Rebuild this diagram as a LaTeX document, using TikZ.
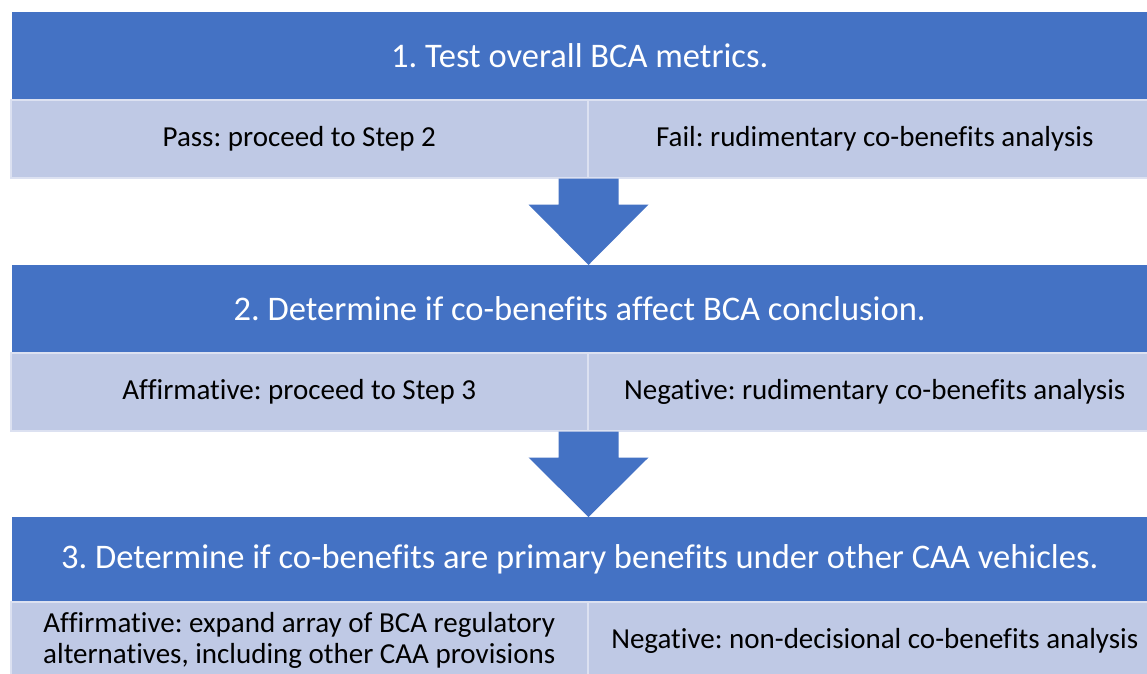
\documentclass[tikz,border=0pt]{standalone}
\usepackage{fontspec}
\setmainfont{Carlito}[Ligatures=NoCommon]
\frenchspacing
\usetikzlibrary{calc}
\definecolor{stepblue}{HTML}{4472C4}
\definecolor{steplight}{HTML}{BFC9E5}
\tikzset{
	stephead/.style={anchor=north west, fill=stepblue, draw=stepblue, text=white, font=\fontsize{34.5}{40}\selectfont, minimum width=1135pt, minimum height=87pt, inner sep=0pt},
	stepcase/.style={anchor=north west, fill=steplight, draw=white!45!steplight, line width=1.5pt, font=\fontsize{29}{31}\selectfont, minimum height=78pt, inner sep=0pt, align=center},
	blockarrow/.style={fill=stepblue}
}
\def\blockarrow(#1)(#2){\fill[blockarrow] ($(#1)+(-30,0)$) -- ($(#1)+(30,0)$) -- ($(#1)+(30,26)$) -- ($(#1)+(60,26)$) -- (#2) -- ($(#1)+(-60,26)$) -- ($(#1)+(-30,26)$) -- cycle;}

\begin{document}
\begin{tikzpicture}[x=1pt,y=-1pt]
				\clip (0,0) rectangle (1147,673);
				
				% step 1
				\node[stephead] (test) at (12,12) {1. Test overall BCA metrics.};
				\node[stepcase, minimum width=577pt] (pass) at (10,99) {Pass: proceed to Step 2};
				\node[stepcase, minimum width=562pt] (fail) at (587,99) {\hspace*{12pt}Fail: rudimentary co-benefits analysis};
				
				% step 2
				\node[stephead] (determine) at (12,265) {2. Determine if co-benefits affect BCA conclusion.};
				\node[stepcase, minimum width=577pt] (affirm) at (10,352) {Affirmative: proceed to Step 3};
				\node[stepcase, minimum width=562pt] (negate) at (587,352) {\hspace*{12pt}Negative: rudimentary co-benefits analysis};
				
				% step 3
				\node[stephead, minimum height=84pt] (primary) at (12,517) {3. Determine if co-benefits are primary benefits under other CAA vehicles.};
				\node[stepcase, minimum width=577pt] (expand) at (10,601) {Affirmative: expand array of BCA regulatory\\alternatives, including other CAA provisions};
				\node[stepcase, minimum width=562pt] (nondec) at (587,601) {\hspace*{12pt}Negative: non-decisional co-benefits analysis};
				
				% arrows
				\coordinate (a1) at (pass.south east);
				\coordinate (t1) at (a1 |- determine.north);
				\blockarrow(a1)(t1)
				\coordinate (a2) at (affirm.south east);
				\coordinate (t2) at (a2 |- primary.north);
				\blockarrow(a2)(t2)
\end{tikzpicture}
\end{document}
